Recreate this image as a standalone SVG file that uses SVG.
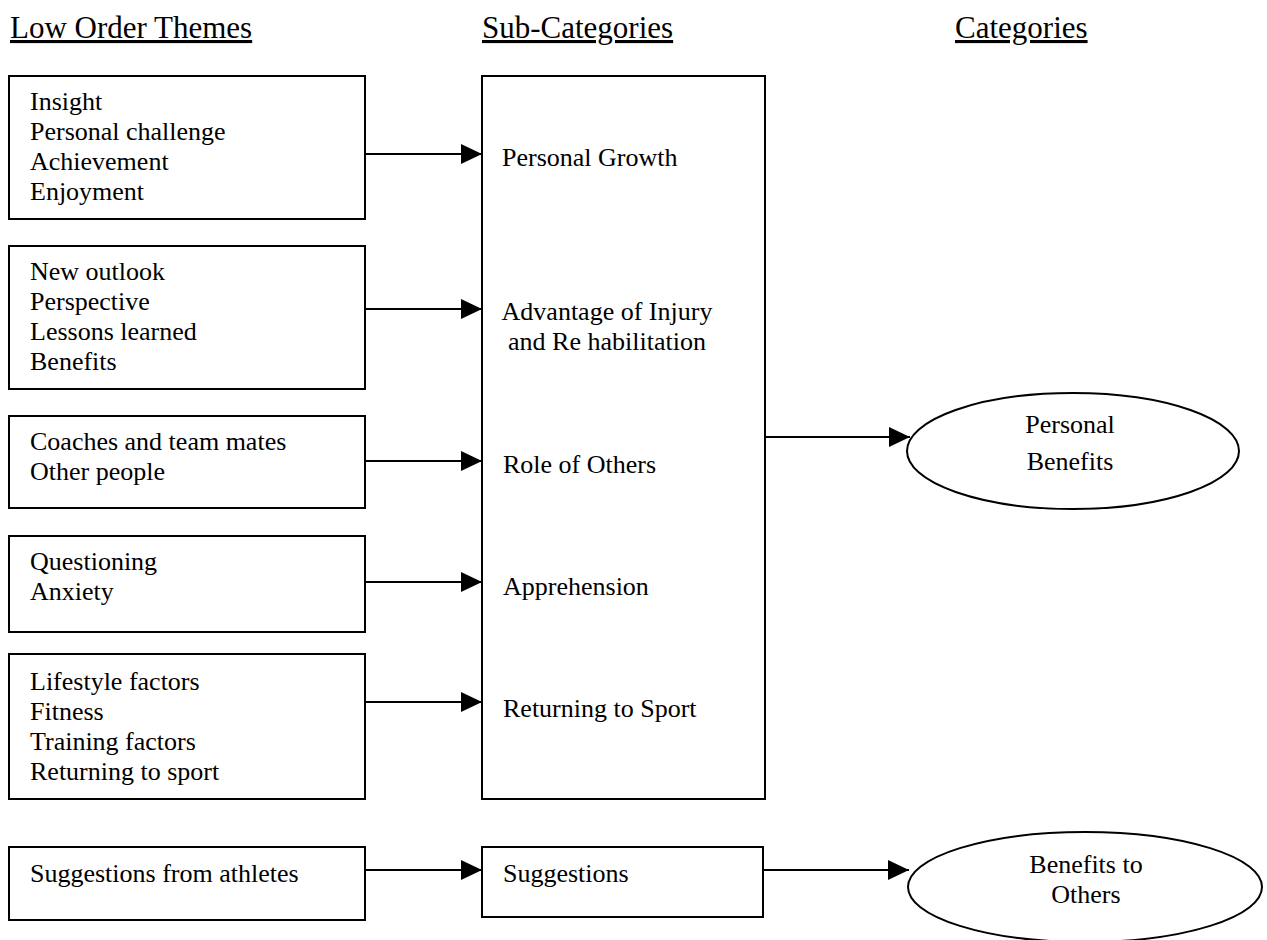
<svg xmlns="http://www.w3.org/2000/svg" width="1267" height="940" viewBox="0 0 1267 940">
<style>
text{font-family:"Liberation Serif","Times New Roman",serif;fill:#000}
.t{font-size:26px}
.h{font-size:31px;text-decoration:underline}
.c{text-anchor:middle}
.box{fill:#fff;stroke:#000;stroke-width:2}
.con{stroke:#000;stroke-width:2;fill:none}
</style>
<defs>
<marker id="ah" markerUnits="userSpaceOnUse" markerWidth="22" markerHeight="20" refX="21" refY="10" orient="auto">
<path d="M0,0 L21,10 L0,20 Z" fill="#000"/>
</marker>
</defs>
<rect width="1267" height="940" fill="#fff"/>
<g id="headers">
<text class="h" x="10" y="38">Low Order Themes</text>
<text class="h" x="482" y="38">Sub-Categories</text>
<text class="h" x="955" y="38">Categories</text>
</g>
<g id="lot1">
<rect class="box" x="9" y="76" width="356" height="143"/>
<text class="t" x="30" y="110">Insight</text>
<text class="t" x="30" y="140">Personal challenge</text>
<text class="t" x="30" y="170">Achievement</text>
<text class="t" x="30" y="200">Enjoyment</text>
</g>
<g id="lot2">
<rect class="box" x="9" y="246" width="356" height="143"/>
<text class="t" x="30" y="280">New outlook</text>
<text class="t" x="30" y="310">Perspective</text>
<text class="t" x="30" y="340">Lessons learned</text>
<text class="t" x="30" y="370">Benefits</text>
</g>
<g id="lot3">
<rect class="box" x="9" y="416" width="356" height="92"/>
<text class="t" x="30" y="450">Coaches and team mates</text>
<text class="t" x="30" y="480">Other people</text>
</g>
<g id="lot4">
<rect class="box" x="9" y="536" width="356" height="96"/>
<text class="t" x="30" y="570">Questioning</text>
<text class="t" x="30" y="600">Anxiety</text>
</g>
<g id="lot5">
<rect class="box" x="9" y="654" width="356" height="145"/>
<text class="t" x="30" y="690">Lifestyle factors</text>
<text class="t" x="30" y="720">Fitness</text>
<text class="t" x="30" y="750">Training factors</text>
<text class="t" x="30" y="780">Returning to sport</text>
</g>
<g id="lot6">
<rect class="box" x="9" y="847" width="356" height="73"/>
<text class="t" x="30" y="882">Suggestions from athletes</text>
</g>
<g id="subcats">
<rect class="box" x="482" y="76" width="283" height="723"/>
<text class="t" x="502" y="166">Personal Growth</text>
<text class="t c" x="607" y="320">Advantage of Injury</text>
<text class="t c" x="607" y="350">and Re habilitation</text>
<text class="t" x="503" y="473">Role of Others</text>
<text class="t" x="503" y="595">Apprehension</text>
<text class="t" x="503" y="717">Returning to Sport</text>
</g>
<g id="suggestions">
<rect class="box" x="482" y="847" width="281" height="70"/>
<text class="t" x="503" y="882">Suggestions</text>
</g>
<g id="personal-benefits">
<ellipse class="box" cx="1073" cy="451" rx="166" ry="58"/>
<text class="t c" x="1070" y="433">Personal</text>
<text class="t c" x="1070" y="470">Benefits</text>
</g>
<g id="benefits-others">
<ellipse class="box" cx="1085" cy="887" rx="177" ry="55"/>
<text class="t c" x="1086" y="873">Benefits to</text>
<text class="t c" x="1086" y="903">Others</text>
</g>
<g id="connectors">
<line class="con" x1="365" y1="154" x2="482" y2="154" marker-end="url(#ah)"/>
<line class="con" x1="365" y1="309" x2="482" y2="309" marker-end="url(#ah)"/>
<line class="con" x1="365" y1="461" x2="482" y2="461" marker-end="url(#ah)"/>
<line class="con" x1="365" y1="582" x2="482" y2="582" marker-end="url(#ah)"/>
<line class="con" x1="365" y1="702" x2="482" y2="702" marker-end="url(#ah)"/>
<line class="con" x1="365" y1="870" x2="482" y2="870" marker-end="url(#ah)"/>
<line class="con" x1="765" y1="437" x2="910" y2="437" marker-end="url(#ah)"/>
<line class="con" x1="763" y1="870" x2="909" y2="870" marker-end="url(#ah)"/>
</g>
</svg>
